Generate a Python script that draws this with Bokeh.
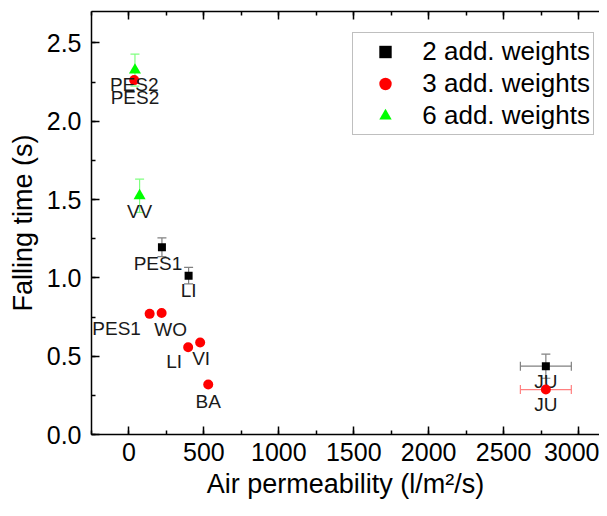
from bokeh.plotting import figure
from bokeh.models import (Range1d, LinearAxis, SingleIntervalTicker, PrintfTickFormatter,
                          CustomJSTickFormatter, Whisker, TeeHead, ColumnDataSource,
                          Legend, LegendItem)
from bokeh.core.properties import value
from bokeh.embed import file_html
from bokeh.resources import INLINE

# ---- data ----
s2_names = ["PES1", "LI", "JU"]
s2_x = [220, 398, 2782]
s2_y = [1.195, 1.014, 0.436]
s2_yerr = [0.06, 0.053, 0.077]
s2_xerr = [0, 0, 170]

s3_names = ["PES2", "PES1", "WO", "LI", "VI", "BA", "JU"]
s3_x = [35, 138, 218, 395, 475, 529, 2782]
s3_y = [2.262, 0.770, 0.776, 0.557, 0.587, 0.319, 0.287]
s3_yerr = [0, 0, 0, 0, 0, 0, 0]
s3_xerr = [0, 0, 0, 0, 0, 0, 170]

s6_names = ["PES2", "VV"]
s6_x = [40, 71]
s6_y = [2.326, 1.524]
s6_yerr = [0.102, 0.106]
s6_xerr = [0, 0]

series_labels = ["2 add. weights", "3 add. weights", "6 add. weights"]

# label offsets in screen pixels (style)
s2_dx = [-4, 0, 0]
s2_dy = [16, 15, 15]
s3_dx = [0, -33, 9, -14, 1, 0, 0]
s3_dy = [4, 15, 17, 14, 16, 17, 15]
s6_dx = [0, 0]
s6_dy = [27, 16]

FONT = "Liberation Sans"

p = figure(width=599, height=508, output_backend="svg", toolbar_location=None,
           x_range=Range1d(-250, 3140), y_range=Range1d(0, 2.70),
           min_border_left=91, min_border_right=0, min_border_top=11, min_border_bottom=74,
           background_fill_color="white", border_fill_color="white")
p.outline_line_color = None
p.xgrid.visible = False
p.ygrid.visible = False

xt = SingleIntervalTicker(interval=500, num_minor_ticks=2)
yt = SingleIntervalTicker(interval=0.5, num_minor_ticks=2)
p.xaxis.ticker = xt
p.yaxis.ticker = yt
p.yaxis.formatter = PrintfTickFormatter(format="%.1f")

for ax in [p.xaxis[0], p.yaxis[0]]:
    ax.axis_line_width = 1.5
    ax.axis_line_color = "black"
    ax.major_tick_in = 8
    ax.major_tick_out = 0
    ax.minor_tick_in = 4
    ax.minor_tick_out = 0
    ax.major_tick_line_width = 1.5
    ax.minor_tick_line_width = 1.5
    ax.major_tick_line_color = "black"
    ax.minor_tick_line_color = "black"
    ax.major_label_text_font = FONT
    ax.major_label_text_font_size = "25px"
    ax.major_label_text_color = "black"
    ax.axis_label_text_font = FONT
    ax.axis_label_text_font_size = "27px"
    ax.axis_label_text_font_style = "normal"
    ax.axis_label_text_color = "black"

p.xaxis.axis_label = "Air permeability (l/m\u00b2/s)"
p.yaxis.axis_label = "Falling time (s)"
p.xaxis.major_label_standoff = 8
p.xaxis.axis_label_standoff = 5
p.yaxis.major_label_standoff = 10
p.yaxis.axis_label_standoff = 6

top = LinearAxis(ticker=xt, formatter=CustomJSTickFormatter(code="return ''"),
                 major_label_standoff=0,
                 axis_line_width=1.5, major_tick_in=8, major_tick_out=0,
                 minor_tick_in=4, minor_tick_out=0,
                 major_tick_line_width=1.5, minor_tick_line_width=1.5)
p.add_layout(top, "above")

def add_series(names, xs, ys, yerr, xerr, marker, size, color, ecolor, dxs, dys):
    src = ColumnDataSource(dict(x=xs, y=ys, names=names))
    if any(e > 0 for e in yerr):
        idx = [i for i, e in enumerate(yerr) if e > 0]
        s = ColumnDataSource(dict(base=[xs[i] for i in idx],
                                  lo=[ys[i] - yerr[i] for i in idx],
                                  hi=[ys[i] + yerr[i] for i in idx]))
        p.add_layout(Whisker(source=s, base="base", lower="lo", upper="hi", dimension="height",
                             line_color=ecolor, line_width=1.2,
                             upper_head=TeeHead(size=9, line_color=ecolor, line_width=1.2),
                             lower_head=TeeHead(size=9, line_color=ecolor, line_width=1.2)))
    if any(e > 0 for e in xerr):
        idx = [i for i, e in enumerate(xerr) if e > 0]
        s = ColumnDataSource(dict(base=[ys[i] for i in idx],
                                  lo=[xs[i] - xerr[i] for i in idx],
                                  hi=[xs[i] + xerr[i] for i in idx]))
        p.add_layout(Whisker(source=s, base="base", lower="lo", upper="hi", dimension="width",
                             line_color=ecolor, line_width=1.2,
                             upper_head=TeeHead(size=9, line_color=ecolor, line_width=1.2),
                             lower_head=TeeHead(size=9, line_color=ecolor, line_width=1.2)))
    r = p.scatter("x", "y", source=src, marker=marker, size=size,
                  fill_color=color, line_color=color, line_width=0)
    lsrc = ColumnDataSource(dict(x=xs, y=ys, names=names, dx=dxs, dy=dys))
    p.text("x", "y", text="names", source=lsrc, x_offset="dx", y_offset="dy",
           text_font=value(FONT), text_font_size="19px", text_color="#1a1a1a",
           text_align="center", text_baseline="middle")
    return r

r2 = add_series(s2_names, s2_x, s2_y, s2_yerr, s2_xerr, "square", 8, "black", "#808080", s2_dx, s2_dy)
r3 = add_series(s3_names, s3_x, s3_y, s3_yerr, s3_xerr, "circle", 10, "#ff0000", "#ff8080", s3_dx, s3_dy)
r6 = add_series(s6_names, s6_x, s6_y, s6_yerr, s6_xerr, "triangle", 12, "#00ff00", "#80ff80", s6_dx, s6_dy)

legend = Legend(items=[LegendItem(label=series_labels[0], renderers=[r2]),
                       LegendItem(label=series_labels[1], renderers=[r3]),
                       LegendItem(label=series_labels[2], renderers=[r6])],
                location=(261.3, 299),
                padding=3, glyph_width=58, glyph_height=31, label_height=31,
                spacing=1, label_standoff=8, margin=0,
                label_text_font=FONT, label_text_font_size="26px", label_text_color="black",
                border_line_color="#808080", border_line_width=1,
                background_fill_color="white", background_fill_alpha=1)
p.add_layout(legend, "center")

open("out.html", "w").write(file_html(p, INLINE))
